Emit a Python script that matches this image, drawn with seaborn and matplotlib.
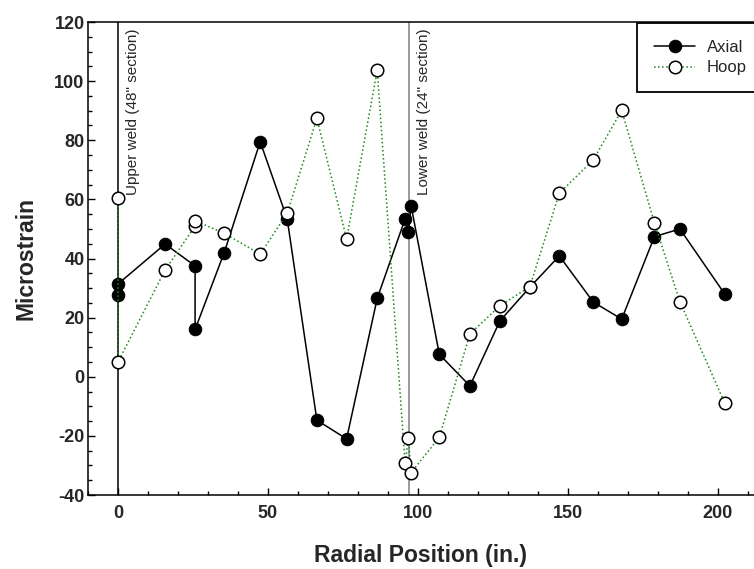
import matplotlib
matplotlib.use('Agg')
import matplotlib.pyplot as plt
from matplotlib.ticker import MultipleLocator
import seaborn as sns

sns.set_style('ticks')
plt.rcParams['font.family'] = ['Liberation Sans', 'DejaVu Sans']
plt.rcParams['axes.unicode_minus'] = False

# radial position (in.) and strain readings
axial_x = [0, 0, 15.7, 25.7, 25.7, 35.4, 47.4, 56.4, 66.3, 76.2, 86.4, 95.7, 96.8, 97.7,
           107.1, 117.3, 127.3, 137.3, 147.1, 158.4, 167.9, 178.8, 187.3, 202.3]
axial_y = [27.7, 31.4, 44.9, 37.5, 16.0, 42.0, 79.5, 53.4, -14.7, -21.0, 26.5, 53.4, 48.9, 57.9,
           7.6, -3.1, 18.9, 30.3, 40.9, 25.3, 19.5, 47.4, 50.0, 27.9]

hoop_x = [0, 0, 15.7, 25.7, 25.7, 35.4, 47.4, 56.4, 66.3, 76.2, 86.4, 95.7, 96.8, 97.7,
          107.1, 117.3, 127.3, 137.3, 147.1, 158.4, 167.9, 178.8, 187.3, 202.3]
hoop_y = [60.4, 5.0, 36.1, 51.0, 52.8, 48.5, 41.5, 55.3, 87.4, 46.6, 103.7, -29.3, -20.8, -32.4,
          -20.5, 14.5, 24.0, 30.5, 62.1, 73.3, 90.1, 52.1, 25.4, -9.0]

welds = [0, 97]
weld_labels = ['Upper weld (48" section)', 'Lower weld (24" section)']
weld_colors = ['black', 'gray']

fig = plt.figure(figsize=(7.54, 5.69), dpi=100)
ax = fig.add_axes([0.1167, 0.130, 0.8833, 0.8313])

for wx, wl, wc in zip(welds, weld_labels, weld_colors):
    ax.axvline(wx, color=wc, lw=1.1, zorder=1)
    ax.text(wx + 2.7, 117.8, wl, rotation=90, ha='left', va='top', fontsize=11)

sns.lineplot(x=axial_x, y=axial_y, ax=ax, estimator=None, sort=False, color='black', lw=1.1,
             marker='o', markersize=9, markerfacecolor='black', markeredgecolor='black',
             label='Axial', zorder=3)
sns.lineplot(x=hoop_x, y=hoop_y, ax=ax, estimator=None, sort=False, color='#1a8a1a', lw=1.1,
             linestyle=':', marker='o', markersize=9, markerfacecolor='white',
             markeredgecolor='black', markeredgewidth=1.1, label='Hoop', zorder=4)

ax.set_xlim(-10, 212)
ax.set_ylim(-40, 120)
ax.xaxis.set_major_locator(MultipleLocator(50))
ax.xaxis.set_minor_locator(MultipleLocator(10))
ax.yaxis.set_major_locator(MultipleLocator(20))
ax.yaxis.set_minor_locator(MultipleLocator(5))
ax.tick_params(which='both', direction='in', top=False, right=False, width=1, color='black')
ax.tick_params(which='major', length=5, labelsize=13, pad=7)
ax.tick_params(which='minor', length=3)
ax.tick_params(axis='y', which='major', pad=2.5)
for lab in ax.get_xticklabels() + ax.get_yticklabels():
    lab.set_fontweight('bold')

ax.spines['right'].set_visible(False)
for s in ['left', 'top', 'bottom']:
    ax.spines[s].set_color('black')
    ax.spines[s].set_linewidth(1.1)

ax.set_xlabel('Radial Position (in.)', fontsize=16.5, fontweight='bold', labelpad=16)
ax.set_ylabel('Microstrain', fontsize=16.5, fontweight='bold', labelpad=12)

leg = ax.legend(loc='upper left', bbox_to_anchor=(637 / 754, 1 - 23 / 569),
                bbox_transform=fig.transFigure, borderaxespad=0, fancybox=False,
                framealpha=1, edgecolor='black', fontsize=12, handlelength=2.5,
                handletextpad=0.7, labelspacing=0.35, borderpad=1.0)
leg.get_frame().set_linewidth(1.3)

fig.savefig('out.png', dpi=100)
